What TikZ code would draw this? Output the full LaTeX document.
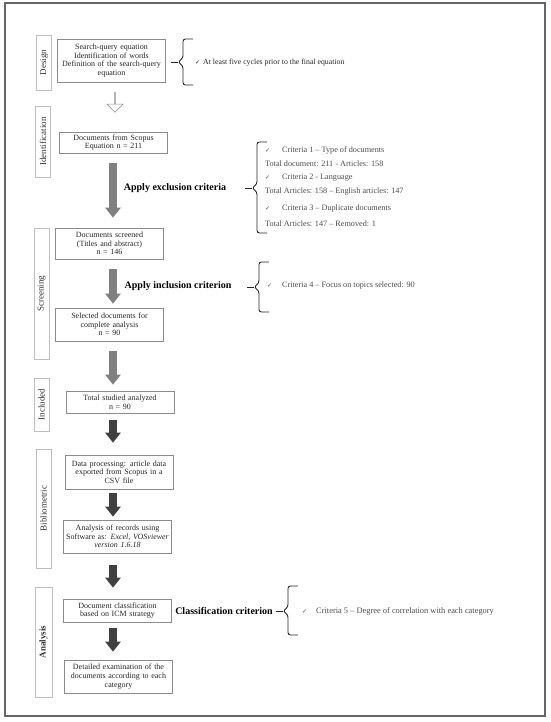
\documentclass[tikz,border=0pt]{standalone}
\usepackage{fontspec}
\setmainfont{Liberation Serif}
\newfontfamily\symfont{DejaVu Sans}
\usetikzlibrary{arrows.meta,shapes.arrows}
\tikzset{
  stepnode/.style  = {shape=rectangle, draw=black!45, line width=0.6pt,
                      text=black!85, font=\fontsize{8}{8.7}\selectfont,
                      text width=104pt, align=center, inner sep=2pt},
  stage/.style     = {shape=rectangle, draw=black!25, line width=0.6pt,
                      rotate=90, font=\fontsize{9}{10}\selectfont,
                      text=black!80, minimum height=15pt, inner sep=1pt},
  note/.style      = {anchor=west, font=\fontsize{8.2}{9}\selectfont,
                      text=black!70, inner sep=0pt},
  rule/.style      = {font=\bfseries\fontsize{10}{11}\selectfont, inner sep=0pt},
  grayarrow/.style = {line width=7.5pt, draw=black!50,
                      -{Triangle[width=15pt,length=10pt]}},
  darkarrow/.style = {grayarrow, draw=black!75},
  hollow/.style    = {single arrow, draw=black!45, fill=white, line width=0.5pt,
                      shape border rotate=270, minimum height=20pt,
                      minimum width=16pt, single arrow head extend=4pt,
                      inner sep=0pt},
  bracket/.style   = {draw=black!85, line width=0.9pt, rounded corners=2.5pt}
}
\newcommand{\tick}[1]{\makebox[#1][l]{\symfont\fontsize{6}{7}\selectfont ✓}}
% brace: shaft x, top, middle, bottom
\newcommand{\sidebrace}[4]{%
  \draw[bracket] (#1+10,#2) -- (#1,#2) -- (#1,#3-4) -- (#1-5,#3)
    -- (#1,#3+4) -- (#1,#4) -- (#1+10,#4);
  \draw[bracket] (#1-5,#3) -- (#1-12,#3);}

\begin{document}
\begin{tikzpicture}[x=1pt, y=-1pt]
  \useasboundingbox (0,0) rectangle (550,722);
  \draw[black!60, line width=1.3pt] (5,3) rectangle (545,716);

  % stages
  \node[stage, minimum width=55pt]  (lbldesign)   at (44,62.5)    {Design};
  \node[stage, minimum width=71pt]  (lblident)    at (43,141.5)   {Identification};
  \node[stage, minimum width=131pt] (lblscreen)   at (41.5,293.5) {Screening};
  \node[stage, minimum width=53pt]  (lblincluded) at (41.5,404.5) {Included};
  \node[stage, minimum width=119pt] (lblbiblio)   at (43.5,508.5) {Bibliometric};
  \node[stage, minimum width=110pt, minimum height=17pt, font=\bfseries\fontsize{9}{10}\selectfont]
                                    (lblanalysis) at (43.5,642)   {Analysis};

  % steps
  \node[stepnode, minimum height=43pt] (design)   at (111.5,60.5)
    {Search-query equation\\Identification of words\\Definition of the search-query\\equation};
  \node[stepnode, minimum height=21pt] (scopus)   at (113.5,142.5)
    {Documents from Scopus\\Equation n = 211};
  \node[stepnode, minimum height=31pt] (screened) at (109.5,243.5)
    {Documents screened\\(Titles and abstract)\\n = 146};
  \node[stepnode, minimum height=33pt] (selected) at (109.5,324.5)
    {Selected documents for\\complete analysis\\n = 90};
  \node[stepnode, minimum height=22pt] (total)    at (120,402)
    {Total studied analyzed\\n = 90};
  \node[stepnode, minimum height=34pt] (dataproc) at (119,472)
    {Data processing: article data\\exported from Scopus in a\\CSV file};
  \node[stepnode, minimum height=33pt] (records)  at (117.5,536.5)
    {Analysis of records using\\Software as: \textit{Excel, VOSviewer}\\\textit{version 1.6.18}};
  \node[stepnode, minimum height=23pt] (classif)  at (117.5,610.5)
    {Document classification\\based on ICM strategy};
  \node[stepnode, minimum height=33pt] (detailed) at (118.5,676.5)
    {Detailed examination of the\\documents according to each\\category};

  % arrows
  \node[hollow] (hollowarrow) at (115,102) {};
  \coordinate (ax) at (113,0);
  \foreach \a/\b/\s/\e/\c in {scopus/screened/10/10/grayarrow,
                              screened/selected/10/4/grayarrow,
                              selected/total/10/6/grayarrow,
                              total/dataproc/7/12/darkarrow,
                              dataproc/records/4/3/darkarrow,
                              records/classif/12/11/darkarrow,
                              classif/detailed/6/8/darkarrow}
    \draw[\c, shorten <=\s pt, shorten >=\e pt] (\a.south -| ax) -- (\b.north -| ax);

  % criteria
  \node[rule] (exclusion) at (175,188) {Apply exclusion criteria};
  \node[rule] (inclusion) at (178,286) {Apply inclusion criterion};
  \node[rule] (classrule) at (224,611) {Classification criterion};

  \sidebrace{183}{39}{62}{85}
  \sidebrace{257}{142}{188}{233}
  \sidebrace{259}{262}{287}{312}
  \sidebrace{288}{586}{611}{635}

  \node[note, text=black!85, font=\fontsize{7.8}{9}\selectfont] (cycles) at (195,63)
    {\tick{8pt}At least five cycles prior to the final equation};
  \node[note] (crit1)  at (265,150) {\tick{17pt}Criteria 1 – Type of documents};
  \node[note] (total1) at (265,164) {Total document: 211 - Articles: 158};
  \node[note] (crit2)  at (265,178) {\tick{17pt}Criteria 2 - Language};
  \node[note] (total2) at (265,192) {Total Articles: 158 – English articles: 147};
  \node[note] (crit3)  at (265,209) {\tick{17pt}Criteria 3 – Duplicate documents};
  \node[note] (total3) at (265,224) {Total Articles: 147 – Removed: 1};
  \node[note] (crit4)  at (267,286) {\tick{15pt}Criteria 4 – Focus on topics selected: 90};
  \node[note, font=\fontsize{8.4}{9}\selectfont] (crit5) at (302,611)
    {\tick{14pt}Criteria 5 – Degree of correlation with each category};
\end{tikzpicture}
\end{document}
